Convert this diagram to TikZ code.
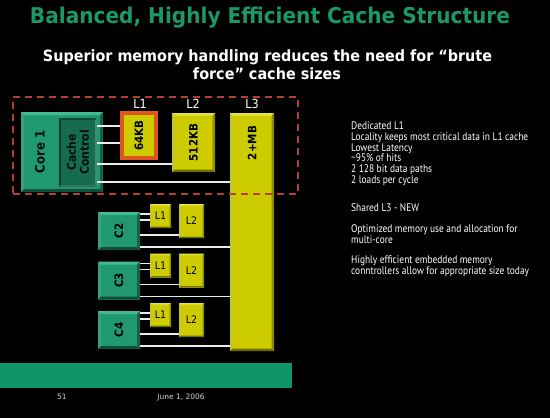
\documentclass[tikz,border=0pt]{standalone}
\usepackage{fontspec}
\usepackage{graphicx}
\setmainfont{DejaVu Sans}
\newfontfamily\ptsans{PT Sans}
\definecolor{titlegreen}{RGB}{26,152,104}
\definecolor{gmain}{RGB}{32,152,112}
\definecolor{glight}{RGB}{70,186,146}
\definecolor{gdark}{RGB}{18,100,74}
\definecolor{ccmain}{RGB}{22,108,80}
\definecolor{ccdark}{RGB}{14,74,56}
\definecolor{ymain}{RGB}{204,204,0}
\definecolor{ylight}{RGB}{228,228,70}
\definecolor{ydark}{RGB}{140,140,0}
\definecolor{orangeb}{RGB}{222,86,28}
\definecolor{reddash}{RGB}{184,62,44}
\definecolor{barg}{RGB}{14,150,104}
\definecolor{wire}{RGB}{235,235,235}
\definecolor{foot}{RGB}{210,210,210}
\begin{document}
\begin{tikzpicture}[x=1pt,y=-1pt,
  bevel/.style n args={3}{path picture={
    \fill[#1] (path picture bounding box.north west) -- (path picture bounding box.north east)
      -- ([xshift=-#3,yshift=-#3]path picture bounding box.north east) -- ([xshift=#3,yshift=-#3]path picture bounding box.north west) -- cycle;
    \fill[#1!85!black] (path picture bounding box.north west) -- (path picture bounding box.south west)
      -- ([xshift=#3,yshift=#3]path picture bounding box.south west) -- ([xshift=#3,yshift=-#3]path picture bounding box.north west) -- cycle;
    \fill[#2] (path picture bounding box.north east) -- (path picture bounding box.south east)
      -- ([xshift=-#3,yshift=#3]path picture bounding box.south east) -- ([xshift=-#3,yshift=-#3]path picture bounding box.north east) -- cycle;
    \fill[#2!80!black] (path picture bounding box.south west) -- (path picture bounding box.south east)
      -- ([xshift=-#3,yshift=#3]path picture bounding box.south east) -- ([xshift=#3,yshift=#3]path picture bounding box.south west) -- cycle;
  }},
  gbox/.style={fill=gmain, inner sep=0pt, bevel={glight}{gdark}{3pt}},
  ybox/.style={fill=ymain, inner sep=0pt, bevel={ylight}{ydark}{2.5pt}},
  sybox/.style={fill=ymain, inner sep=0pt, bevel={ylight}{ydark}{1.5pt}},
  wires/.style={draw=wire, line width=1.8pt},
  boxlabel/.style={font=\bfseries\fontsize{11.5}{12}\selectfont, text=black},
  capt/.style={text=white, font=\fontsize{12.5}{13}\selectfont},
  side/.style={anchor=north west, inner sep=0pt, text=white, align=left}
]
\fill[black] (0,0) rectangle (550,418);
\useasboundingbox (0,0) rectangle (550,418);

% title and subtitle
\node[anchor=base, inner sep=0pt, text=titlegreen] (title) at (270,23.5)
  {\resizebox{480pt}{16.5pt}{\bfseries Balanced, Highly Efficient Cache Structure}};
\node[anchor=base, inner sep=0pt, text=white] (sub1) at (267.5,61.5)
  {\resizebox{449pt}{11.8pt}{\bfseries Superior memory handling reduces the need for “brute}};
\node[anchor=base, inner sep=0pt, text=white] (sub2) at (267,79)
  {\resizebox{148pt}{11.8pt}{\bfseries force” cache sizes}};

% L3 (drawn first so the dashed frame lies over it)
\node[ybox, minimum width=44pt, minimum height=238pt] (l3) at (252,232) {};
\node[boxlabel, rotate=90] at (252,143) {\scalebox{0.9}[1]{2+MB}};

% Core 1
\node[gbox, minimum width=82pt, minimum height=80pt] (core1) at (62,152) {};
\node[fill=ccmain, inner sep=0pt, minimum width=38pt, minimum height=69pt,
      bevel={ccdark}{ccmain!80!white}{2pt}] (cc) at (78,152.5) {};
\node[rotate=90, font=\bfseries\fontsize{13}{13}\selectfont, text=black!85!gdark] (core1t) at (40,152) {\scalebox{0.9}[1]{Core 1}};
\node[rotate=90, align=center, font=\bfseries\fontsize{12}{13}\selectfont, text=black!85!gdark] (cct) at (78,152.5) {\scalebox{0.9}[1]{Cache}\\\scalebox{0.9}[1]{Control}};

% L1 / L2
\node[fill=ymain, draw=orangeb, line width=4pt, inner sep=0pt, minimum width=34pt, minimum height=45pt] (l1) at (139,135.5) {};
\node[boxlabel, rotate=90] at (139,135.5) {\scalebox{0.9}[1]{64KB}};
\node[ybox, minimum width=43pt, minimum height=59pt] (l2) at (193.5,142.5) {};
\node[boxlabel, rotate=90] at (193.5,142.5) {\scalebox{0.9}[1]{512KB}};

\node[capt] (cl1) at (140,104) {\scalebox{0.9}[1]{L1}};
\node[capt] (cl2) at (193,104) {\scalebox{0.9}[1]{L2}};
\node[capt] (cl3) at (252,104) {\scalebox{0.9}[1]{L3}};

\draw[wires] (cc.east |- 0,126) -- (l1.west |- 0,126);
\draw[wires] (cc.east |- 0,143) -- (l1.west |- 0,143);
\draw[wires] (cc.east |- 0,164) -- (l2.west |- 0,164);
\draw[wires] (cc.east |- 0,182) -- (l3.west |- 0,182);

% other cores
\foreach \n [count=\i from 0] in {2,3,4} {
  \pgfmathsetmacro{\dy}{\i*49.5}
  \node[gbox, minimum width=42pt, minimum height=38pt] (c\n) at (119,231+\dy) {};
  \node[boxlabel, rotate=90] at (119,231+\dy) {\scalebox{0.9}[1]{C\n}};
  \node[sybox, minimum width=21pt, minimum height=24pt] (l1c\n) at (160.5,216+\dy) {};
  \node[font=\fontsize{10.5}{12}\selectfont, text=black] at (160.5,216+\dy) {\scalebox{0.9}[1]{L1}};
  \node[sybox, minimum width=25pt, minimum height=34pt] (l2c\n) at (191.5,221+\dy) {};
  \node[font=\fontsize{10.5}{12}\selectfont, text=black] at (191.5,221+\dy) {\scalebox{0.9}[1]{L2}};
  \draw[wires] (c\n.east |- 0,214+\dy) -- (l1c\n.west |- 0,214+\dy);
  \draw[wires] (c\n.east |- 0,220+\dy) -- (l1c\n.west |- 0,220+\dy);
  \draw[wires] (c\n.east |- 0,235+\dy) -- (l2c\n.west |- 0,235+\dy);
  \draw[wires] (c\n.east |- 0,247+\dy) -- (l3.west |- 0,247+\dy);
}

% dashed frame
\node[draw=reddash, line width=2.6pt, dash pattern=on 7pt off 5pt, inner sep=0pt,
      minimum width=285pt, minimum height=97pt] (frame) at (155.5,145.5) {};

% side text
\node[side] (t1) at (351,121.5) {\scalebox{0.855}[1]{\ptsans\fontsize{11}{9.9}\selectfont
  \begin{tabular}{@{}l@{}}Dedicated L1\\Locality keeps most critical data in L1 cache\\Lowest Latency\\\textasciitilde95\% of hits\\2 128 bit data paths\\2 loads per cycle\end{tabular}}};
\node[side] (t2) at (351,203.5) {\scalebox{0.855}[1]{\ptsans\fontsize{11}{9.9}\selectfont Shared L3 - NEW}};
\node[side] (t3) at (351,224.5) {\scalebox{0.855}[1]{\ptsans\fontsize{11}{9.9}\selectfont
  \begin{tabular}{@{}l@{}}Optimized memory use and allocation for\\multi-core\end{tabular}}};
\node[side] (t4) at (351,255.5) {\scalebox{0.855}[1]{\ptsans\fontsize{11}{9.9}\selectfont
  \begin{tabular}{@{}l@{}}Highly efficient embedded memory\\conntrollers allow for appropriate size today\end{tabular}}};

% footer
\node[fill=barg, inner sep=0pt, minimum width=292pt, minimum height=25pt] (bar) at (146,375.5) {};
\node[text=foot, font=\fontsize{7.5}{8}\selectfont] (pg) at (62,397) {51};
\node[text=foot, font=\fontsize{7.5}{8}\selectfont] (date) at (181,397) {June 1, 2006};
\end{tikzpicture}
\end{document}
